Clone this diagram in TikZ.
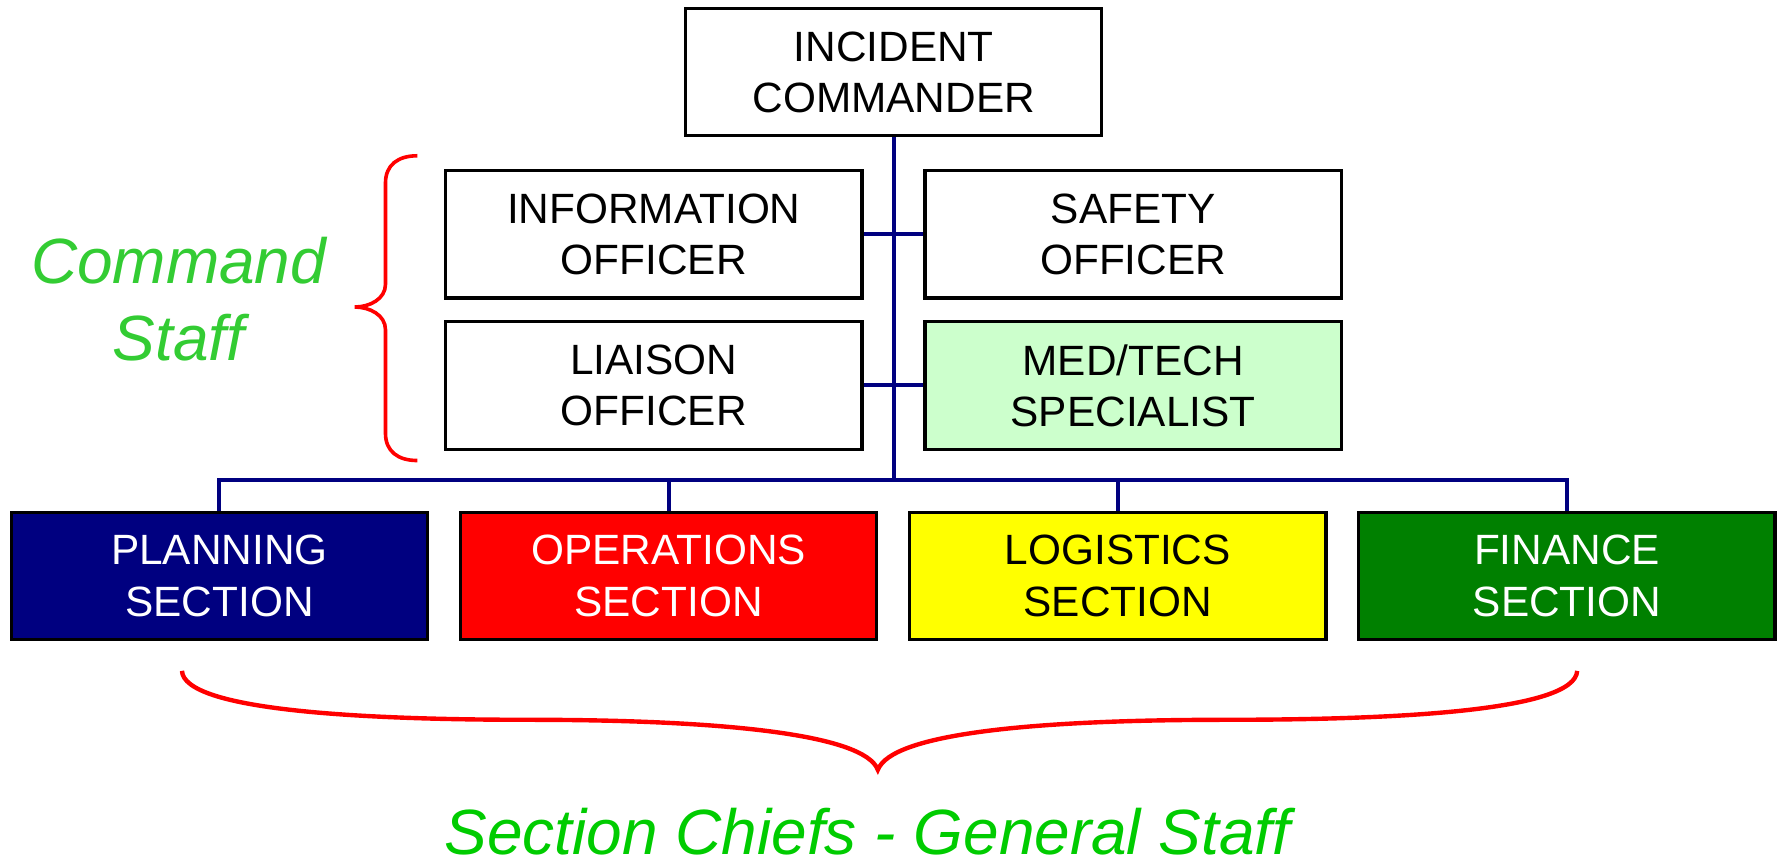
\documentclass[tikz,border=0pt]{standalone}
\usepackage{fontspec}
\setmainfont{Liberation Sans}
\usepackage{tikz}
\usetikzlibrary{positioning,calc}

\definecolor{linkblue}{RGB}{0,0,128}
\definecolor{staffgreen}{RGB}{51,204,51}
\definecolor{chiefgreen}{RGB}{0,204,0}
\definecolor{medgreen}{RGB}{204,255,204}
\definecolor{fingreen}{RGB}{0,128,0}
\definecolor{secyellow}{RGB}{255,255,0}

\begin{document}
\begin{tikzpicture}[scale=1,
  officer/.style={draw=black,line width=0.8pt,minimum width=3.66cm,
    minimum height=1.12cm,inner sep=0pt,align=center,
    font=\fontsize{10.6}{12.8}\selectfont},
  section/.style={officer},
  link/.style={draw=linkblue,line width=1pt},
  curly/.style={draw=red,line width=0.9pt},
  staffname/.style={align=center,inner sep=0pt,
    font=\fontsize{16}{19.3}\selectfont\itshape}]
\useasboundingbox (0,0) rectangle (15.68,-7.60);

%Incident commander
\node[officer] (ic) at (7.86,-0.635) {INCIDENT\\COMMANDER};

%Command staff
\node[officer] (info) at (5.75,-2.06) {INFORMATION\\OFFICER};
\node[officer] (safety) at (9.965,-2.06) {SAFETY\\OFFICER};
\node[officer] (liaison) at (5.75,-3.39) {LIAISON\\OFFICER};
\node[officer,fill=medgreen] (medtech) at (9.965,-3.39) {MED/TECH\\SPECIALIST};

%General staff
\foreach\nm/\xx/\col/\tcol/\lbl in {planning/1.93/linkblue/white/PLANNING,
  operations/5.88/red/white/OPERATIONS,logistics/9.83/secyellow/black/LOGISTICS,
  finance/13.78/fingreen/white/FINANCE}
\node[section,fill=\col,text=\tcol] (\nm) at (\xx,-5.065) {\lbl\\SECTION};

% lines
\coordinate (bus) at (7.86,-4.22);
\draw[link] (ic.south) -- (bus);
\draw[link] (info.east) -- (safety.west);
\draw[link] (liaison.east) -- (medtech.west);
\draw[link] (planning.north) |- (bus) -| (finance.north);
\foreach\s in {operations,logistics}
\draw[link] (\s.north) -- (\s.north |- bus);

% braces
\draw[curly]
(3.67,-1.37) .. controls (3.50,-1.37) and (3.39,-1.45) .. (3.39,-1.61)
-- (3.39,-2.50) .. controls (3.39,-2.63) and (3.25,-2.70) .. (3.12,-2.70)
.. controls (3.25,-2.70) and (3.39,-2.77) .. (3.39,-2.90)
-- (3.39,-3.81) .. controls (3.39,-3.97) and (3.50,-4.05) .. (3.67,-4.05);
\draw[curly,line width=1.1pt]
(1.60,-5.90) .. controls (1.62,-6.25) and (3.2,-6.33) .. (4.65,-6.33)
.. controls (6.3,-6.33) and (7.6,-6.45) .. (7.72,-6.77)
.. controls (7.84,-6.45) and (9.1,-6.33) .. (10.78,-6.33)
.. controls (12.3,-6.33) and (13.85,-6.25) .. (13.87,-5.90);

\node[staffname,text=staffgreen] (cmdstaff) at (1.57,-2.63) {Command\\Staff};
\node[staffname,text=chiefgreen] (genstaff) at (7.63,-7.31)
{Section Chiefs - General Staff};

\end{tikzpicture}
\end{document}
